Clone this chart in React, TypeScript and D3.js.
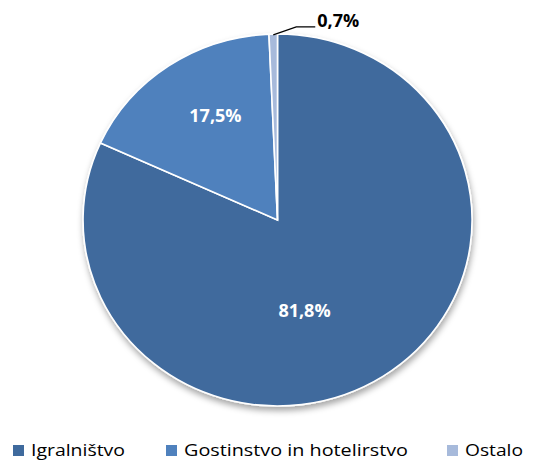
import React, { useEffect, useRef } from 'react'
import * as d3 from 'd3'

const categories = ['Igralništvo', 'Gostinstvo in hotelirstvo', 'Ostalo']
const values = [81.8, 17.5, 0.7]
const labels = ['81,8%', '17,5%', '0,7%']
const colors = ['#3F6A9D', '#4F81BD', '#A7BADB']

const W = 544
const H = 461
const cx = 277.5
const cy = 220
const rx = 194.5
const ry = 186

export default function App() {
  const ref = useRef<SVGSVGElement>(null)

  useEffect(() => {
    const svg = d3.select(ref.current)
    svg.selectAll('*').remove()

    const defs = svg.append('defs')
    const f = defs.append('filter').attr('id', 'sh').attr('x', '-10%').attr('y', '-10%').attr('width', '120%').attr('height', '125%')
    f.append('feDropShadow')
      .attr('dx', 1).attr('dy', 4).attr('stdDeviation', 3)
      .attr('flood-color', '#000').attr('flood-opacity', 0.35)

    const pie = d3.pie<number>().sort(null).value(d => d)
    const arcs = pie(values)
    const arc = d3.arc<d3.PieArcDatum<number>>().innerRadius(0).outerRadius(1)

    // pie drawn on a unit circle, stretched to the ellipse
    const g = svg.append('g').attr('filter', 'url(#sh)')
    const pg = g.append('g').attr('transform', `translate(${cx},${cy}) scale(${rx},${ry})`)
    pg.selectAll('path')
      .data(arcs)
      .enter()
      .append('path')
      .attr('d', arc)
      .attr('fill', (d, i) => colors[i])
      .attr('stroke', '#fff')
      .attr('stroke-width', 1.6)
      .attr('vector-effect', 'non-scaling-stroke')

    // inside labels, placed like excel does (fractions of the radii)
    const labelPos = [[0.139, 0.484], [-0.319, -0.567]]
    labelPos.forEach((p, i) => {
      svg.append('text')
        .attr('x', cx + p[0] * rx)
        .attr('y', cy + p[1] * ry)
        .attr('text-anchor', 'middle')
        .attr('dominant-baseline', 'central')
        .attr('fill', '#fff')
        .attr('font-family', 'Open Sans, sans-serif')
        .attr('font-weight', 'bold')
        .attr('font-size', 18)
        .text(labels[i])
    })

    // small slice label with leader line
    const s = arcs[2]
    const a = (s.startAngle + s.endAngle) / 2
    const p0x = cx + Math.sin(a) * rx * 0.99
    const p0y = cy - Math.cos(a) * ry * 0.99 - 1
    svg.append('polyline')
      .attr('points', `${p0x},${p0y} ${p0x + 23},${p0y - 8} ${p0x + 42},${p0y - 8}`)
      .attr('fill', 'none')
      .attr('stroke', '#000')
      .attr('stroke-width', 1.3)
    svg.append('text')
      .attr('x', p0x + 44)
      .attr('y', p0y - 8)
      .attr('font-family', 'Open Sans, sans-serif')
      .attr('font-weight', 'bold')
      .attr('font-size', 18)
      .attr('fill', '#000')
      .text(labels[2])

    // legend
    const legendX = [13, 166, 447]
    const legendW = [94, 224, 58]
    const lg = svg.append('g')
    categories.forEach((c, i) => {
      lg.append('rect')
        .attr('x', legendX[i]).attr('y', 445)
        .attr('width', 11).attr('height', 11)
        .attr('fill', colors[i])
      lg.append('text')
        .attr('x', legendX[i] + 18)
        .attr('y', 456)
        .attr('font-family', 'Open Sans, sans-serif')
        .attr('font-size', 17)
        .attr('fill', '#000')
        .attr('textLength', legendW[i])
        .attr('lengthAdjust', 'spacingAndGlyphs')
        .text(c)
    })
  }, [])

  return (
    <svg
      ref={ref}
      width={W}
      height={H}
      style={{ position: 'absolute', left: 0, top: 0, background: '#fff' }}
    />
  )
}
